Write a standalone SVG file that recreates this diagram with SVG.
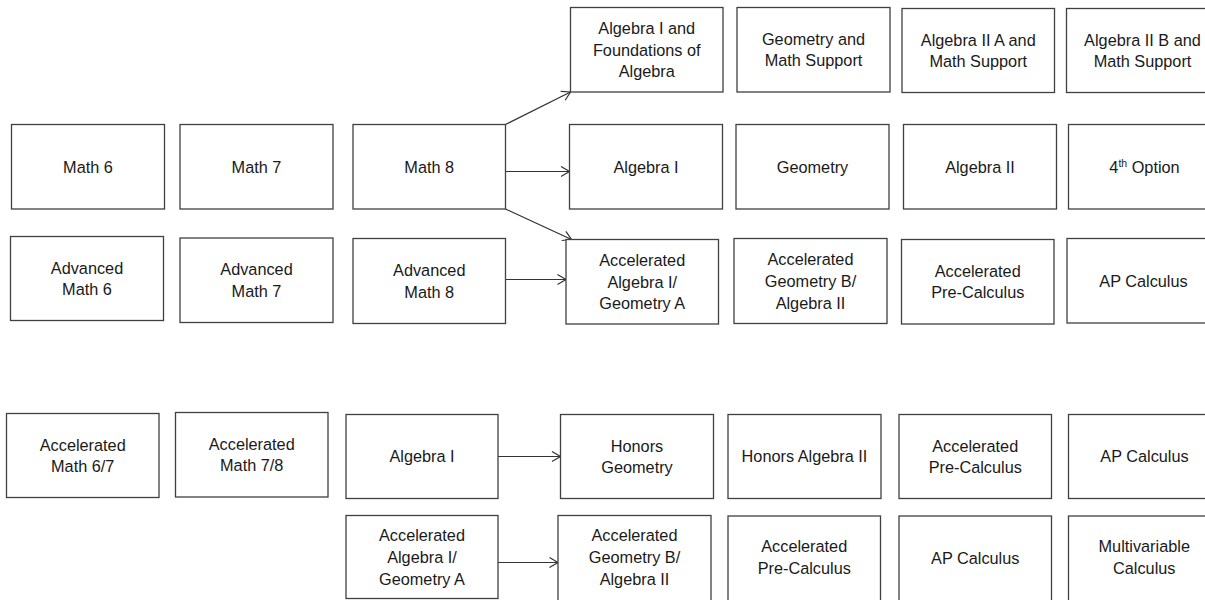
<svg xmlns="http://www.w3.org/2000/svg" width="1205" height="600" viewBox="0 0 1205 600">
<defs>
<style>
.box{fill:#ffffff;stroke:#404040;stroke-width:1.3}
.t{font-family:"Liberation Sans",Arial,sans-serif;font-size:16.3px;fill:#1a1a1a;text-anchor:middle}
.c{fill:none;stroke:#333333;stroke-width:1.2}
</style>
<marker id="ah" viewBox="-10 -6 12 12" markerWidth="12" markerHeight="12" refX="0" refY="0" orient="auto" markerUnits="userSpaceOnUse">
<path d="M -8.5 -5 L 0 0 L -8.5 5" fill="none" stroke="#333333" stroke-width="1.2"/>
</marker>
</defs>
<rect width="1205" height="600" fill="#ffffff"/>

<g id="connectors">
<line class="c" x1="505.5" y1="124.5" x2="570.5" y2="92" marker-end="url(#ah)"/>
<line class="c" x1="505.5" y1="171.5" x2="569.5" y2="171.5" marker-end="url(#ah)"/>
<line class="c" x1="505.5" y1="209" x2="571.5" y2="239.5" marker-end="url(#ah)"/>
<line class="c" x1="505.5" y1="279.5" x2="566" y2="279.5" marker-end="url(#ah)"/>
<line class="c" x1="498" y1="456.5" x2="560.5" y2="456.5" marker-end="url(#ah)"/>
<line class="c" x1="498" y1="562.5" x2="558" y2="562.5" marker-end="url(#ah)"/>
</g>

<g id="math6"><rect class="box" x="11.5" y="124.5" width="153" height="84.5"/><text class="t" x="88" y="172.5">Math 6</text></g>
<g id="math7"><rect class="box" x="180" y="124.5" width="153" height="84.5"/><text class="t" x="256.5" y="172.5">Math 7</text></g>
<g id="math8"><rect class="box" x="353" y="124.5" width="152.5" height="84.5"/><text class="t" x="429.25" y="172.5">Math 8</text></g>

<g id="alg1found"><rect class="box" x="570.5" y="7.5" width="152.5" height="84.5"/><text class="t" x="646.75" y="33.9">Algebra I and</text><text class="t" x="646.75" y="55.6">Foundations of</text><text class="t" x="646.75" y="77.3">Algebra</text></g>
<g id="geomsupport"><rect class="box" x="737" y="7.5" width="153" height="84.5"/><text class="t" x="813.5" y="44.75">Geometry and</text><text class="t" x="813.5" y="66.45">Math Support</text></g>
<g id="alg2a"><rect class="box" x="902" y="8.5" width="152.5" height="84"/><text class="t" x="978.25" y="45.5">Algebra II A and</text><text class="t" x="978.25" y="67.2">Math Support</text></g>
<g id="alg2b"><rect class="box" x="1066.5" y="8.5" width="156" height="84"/><text class="t" x="1142.5" y="45.5">Algebra II B and</text><text class="t" x="1142.5" y="67.2">Math Support</text></g>

<g id="alg1"><rect class="box" x="569.5" y="124.5" width="153" height="84.5"/><text class="t" x="646" y="172.5">Algebra I</text></g>
<g id="geom"><rect class="box" x="736" y="124.5" width="153" height="84.5"/><text class="t" x="812.5" y="172.5">Geometry</text></g>
<g id="alg2"><rect class="box" x="903.5" y="124.5" width="153" height="84.5"/><text class="t" x="980" y="172.5">Algebra II</text></g>
<g id="opt4"><rect class="box" x="1068.5" y="124.5" width="156" height="84.5"/><text class="t" x="1144.5" y="172.5">4<tspan font-size="10.5px" dy="-6">th</tspan><tspan dy="6"> Option</tspan></text></g>

<g id="adv6"><rect class="box" x="10.5" y="236.5" width="153" height="84"/><text class="t" x="87" y="273.5">Advanced</text><text class="t" x="87" y="295.2">Math 6</text></g>
<g id="adv7"><rect class="box" x="180" y="238" width="153" height="84.5"/><text class="t" x="256.5" y="275.25">Advanced</text><text class="t" x="256.5" y="296.95">Math 7</text></g>
<g id="adv8"><rect class="box" x="353" y="238.5" width="152.5" height="85"/><text class="t" x="429.25" y="276">Advanced</text><text class="t" x="429.25" y="297.7">Math 8</text></g>
<g id="accalg1"><rect class="box" x="566" y="239.5" width="152.5" height="84.5"/><text class="t" x="642.25" y="265.85">Accelerated</text><text class="t" x="642.25" y="287.55">Algebra I/</text><text class="t" x="642.25" y="309.25">Geometry A</text></g>
<g id="accgeo1"><rect class="box" x="734" y="238.5" width="153" height="85"/><text class="t" x="810.5" y="265.1">Accelerated</text><text class="t" x="810.5" y="286.8">Geometry B/</text><text class="t" x="810.5" y="308.5">Algebra II</text></g>
<g id="accpre1"><rect class="box" x="901.5" y="239.5" width="152.5" height="84.5"/><text class="t" x="977.75" y="276.75">Accelerated</text><text class="t" x="977.75" y="298.45">Pre-Calculus</text></g>
<g id="apcalc1"><rect class="box" x="1067" y="238.5" width="156" height="84.5"/><text class="t" x="1143.5" y="286.55">AP Calculus</text></g>

<g id="accm67"><rect class="box" x="6.5" y="413.5" width="152.5" height="84"/><text class="t" x="82.75" y="450.5">Accelerated</text><text class="t" x="82.75" y="472.2">Math 6/7</text></g>
<g id="accm78"><rect class="box" x="175.5" y="412.5" width="152.5" height="84.5"/><text class="t" x="251.75" y="449.75">Accelerated</text><text class="t" x="251.75" y="471.45">Math 7/8</text></g>
<g id="alg1b"><rect class="box" x="346" y="414.5" width="152" height="84"/><text class="t" x="422" y="462.3">Algebra I</text></g>
<g id="hongeo"><rect class="box" x="560.5" y="414.5" width="153" height="84"/><text class="t" x="637" y="451.5">Honors</text><text class="t" x="637" y="473.2">Geometry</text></g>
<g id="honalg2"><rect class="box" x="728" y="414.5" width="153" height="84"/><text class="t" x="804.5" y="462.3">Honors Algebra II</text></g>
<g id="accpre2"><rect class="box" x="899" y="414.5" width="152.5" height="84"/><text class="t" x="975.25" y="451.5">Accelerated</text><text class="t" x="975.25" y="473.2">Pre-Calculus</text></g>
<g id="apcalc2"><rect class="box" x="1068.5" y="414.5" width="156" height="84"/><text class="t" x="1144.5" y="462.3">AP Calculus</text></g>

<g id="accalg2"><rect class="box" x="346" y="515.5" width="152" height="83"/><text class="t" x="422" y="541.1">Accelerated</text><text class="t" x="422" y="562.8">Algebra I/</text><text class="t" x="422" y="584.5">Geometry A</text></g>
<g id="accgeo2"><rect class="box" x="558" y="515.5" width="153" height="86"/><text class="t" x="634.5" y="541.1">Accelerated</text><text class="t" x="634.5" y="562.8">Geometry B/</text><text class="t" x="634.5" y="584.5">Algebra II</text></g>
<g id="accpre3"><rect class="box" x="728" y="516" width="152.5" height="86"/><text class="t" x="804.25" y="552">Accelerated</text><text class="t" x="804.25" y="573.7">Pre-Calculus</text></g>
<g id="apcalc3"><rect class="box" x="899" y="516" width="152.5" height="86"/><text class="t" x="975.25" y="563.5">AP Calculus</text></g>
<g id="multivar"><rect class="box" x="1068.5" y="516" width="156" height="86"/><text class="t" x="1144.25" y="552">Multivariable</text><text class="t" x="1144.25" y="573.7">Calculus</text></g>
</svg>
